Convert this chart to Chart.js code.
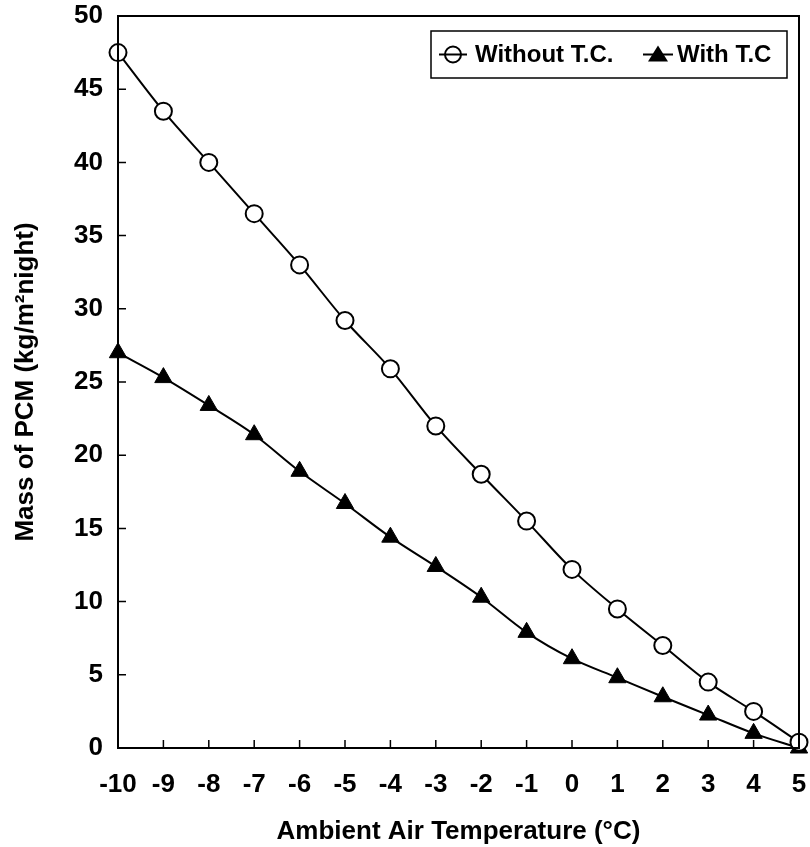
<!DOCTYPE html>
<html>
<head>
<meta charset="utf-8">
<script src="https://cdn.jsdelivr.net/npm/chart.js@4.4.1/dist/chart.umd.min.js"></script>
<style>
  html, body { margin: 0; padding: 0; background: #fff; }
  #wrap { width: 810px; height: 847px; position: relative; }
</style>
</head>
<body>
<div id="wrap"><canvas id="massChart"></canvas></div>
<script>
const temperatures = [-10, -9, -8, -7, -6, -5, -4, -3, -2, -1, 0, 1, 2, 3, 4, 5];
const withoutTC = [47.5, 43.5, 40.0, 36.5, 33.0, 29.2, 25.9, 22.0, 18.7, 15.5, 12.2, 9.5, 7.0, 4.5, 2.5, 0.4];
const withTC = [27.0, 25.3, 23.4, 21.4, 18.9, 16.7, 14.4, 12.4, 10.3, 7.9, 6.1, 4.8, 3.5, 2.25, 1.0, 0.0];
const xTicks = [-10, -9, -8, -7, -6, -5, -4, -3, -2, -1, 0, 1, 2, 3, 4, 5];
const yTicks = [0, 5, 10, 15, 20, 25, 30, 35, 40, 45, 50];

const FONT = "'Liberation Sans', Arial, Helvetica, sans-serif";

const toPoints = function (values) {
  return temperatures.map((t, i) => ({ x: t, y: values[i] }));
};

// frame, inward ticks and the boxed legend inside the plot
const framePlugin = {
  id: 'frame',
  afterDraw(chart) {
    const ctx = chart.ctx;
    const area = chart.chartArea;
    const xs = chart.scales.x;
    const ys = chart.scales.y;
    ctx.save();
    ctx.strokeStyle = '#000';
    ctx.lineWidth = 2;
    ctx.strokeRect(area.left, area.top, area.right - area.left, area.bottom - area.top);

    ctx.lineWidth = 1.5;
    ctx.beginPath();
    xTicks.forEach(v => {
      const px = xs.getPixelForValue(v);
      ctx.moveTo(px, area.bottom);
      ctx.lineTo(px, area.bottom - 8);
    });
    yTicks.forEach(v => {
      const py = ys.getPixelForValue(v);
      ctx.moveTo(area.left, py);
      ctx.lineTo(area.left + 8, py);
    });
    ctx.stroke();

    // legend
    const boxR = area.right - 12;
    const boxL = boxR - 356;
    const boxT = area.top + 15;
    const boxH = 47;
    ctx.fillStyle = '#fff';
    ctx.fillRect(boxL, boxT, boxR - boxL, boxH);
    ctx.lineWidth = 1.5;
    ctx.strokeRect(boxL, boxT, boxR - boxL, boxH);
    const cy = boxT + boxH / 2;

    ctx.lineWidth = 2;
    ctx.beginPath();
    ctx.moveTo(boxL + 8, cy);
    ctx.lineTo(boxL + 36, cy);
    ctx.stroke();
    ctx.beginPath();
    ctx.arc(boxL + 22, cy, 8, 0, Math.PI * 2);
    ctx.stroke();

    ctx.beginPath();
    ctx.moveTo(boxL + 212, cy);
    ctx.lineTo(boxL + 242, cy);
    ctx.stroke();
    ctx.fillStyle = '#000';
    ctx.beginPath();
    ctx.moveTo(boxL + 227, cy - 9);
    ctx.lineTo(boxL + 237, cy + 7);
    ctx.lineTo(boxL + 217, cy + 7);
    ctx.closePath();
    ctx.fill();

    ctx.font = 'bold 24px ' + FONT;
    ctx.textBaseline = 'middle';
    ctx.textAlign = 'left';
    ctx.fillText('Without T.C.', boxL + 44, cy + 1);
    ctx.fillText('With T.C', boxL + 246, cy + 1);
    ctx.restore();
  }
};

const config = {
  type: 'line',
  data: {
    datasets: [{
      label: 'Without T.C.',
      data: toPoints(withoutTC),
      borderColor: '#000',
      borderWidth: 2,
      backgroundColor: '#fff',
      pointStyle: 'circle',
      pointRadius: 8.5,
      pointBorderWidth: 2,
      pointBackgroundColor: '#fff',
      pointBorderColor: '#000',
      cubicInterpolationMode: 'monotone',
      clip: false
    }, {
      label: 'With T.C',
      data: toPoints(withTC),
      borderColor: '#000',
      borderWidth: 2,
      backgroundColor: '#000',
      pointStyle: 'triangle',
      pointRadius: 10,
      pointBorderWidth: 1,
      pointBackgroundColor: '#000',
      pointBorderColor: '#000',
      cubicInterpolationMode: 'monotone',
      clip: false
    }]
  },
  options: {
    responsive: true,
    maintainAspectRatio: false,
    animation: false,
    layout: { padding: { left: 10, right: 7, top: 16, bottom: 0 } },
    plugins: {
      legend: { display: false },
      tooltip: { enabled: false }
    },
    scales: {
      x: {
        type: 'linear',
        min: -10,
        max: 5,
        afterBuildTicks: scale => { scale.ticks = xTicks.map(v => ({ value: v })); },
        afterFit: scale => {
          scale.height = 99;
          scale.paddingLeft = 0;
          scale.paddingRight = 0;
        },
        grid: { display: false, drawTicks: false },
        border: { display: false },
        ticks: {
          color: '#000',
          padding: 21,
          maxRotation: 0,
          autoSkip: false,
          font: { family: FONT, size: 26, weight: 'bold' }
        },
        title: {
          display: true,
          text: 'Ambient Air Temperature (°C)',
          color: '#000',
          padding: { top: 11, bottom: 0 },
          font: { family: FONT, size: 26, weight: 'bold' }
        }
      },
      y: {
        min: 0,
        max: 50,
        afterBuildTicks: scale => { scale.ticks = yTicks.map(v => ({ value: v })); },
        afterFit: scale => {
          scale.width = 108;
          scale.paddingTop = 0;
          scale.paddingBottom = 0;
        },
        grid: { display: false, drawTicks: false },
        border: { display: false },
        ticks: {
          color: '#000',
          padding: 15,
          font: { family: FONT, size: 26, weight: 'bold' }
        },
        title: {
          display: true,
          text: 'Mass of PCM (kg/m²night)',
          color: '#000',
          padding: { top: 0, bottom: 4 },
          font: { family: FONT, size: 26, weight: 'bold' }
        }
      }
    }
  },
  plugins: [framePlugin]
};

const massChart = new Chart(document.getElementById('massChart'), config);
</script>
</body>
</html>
